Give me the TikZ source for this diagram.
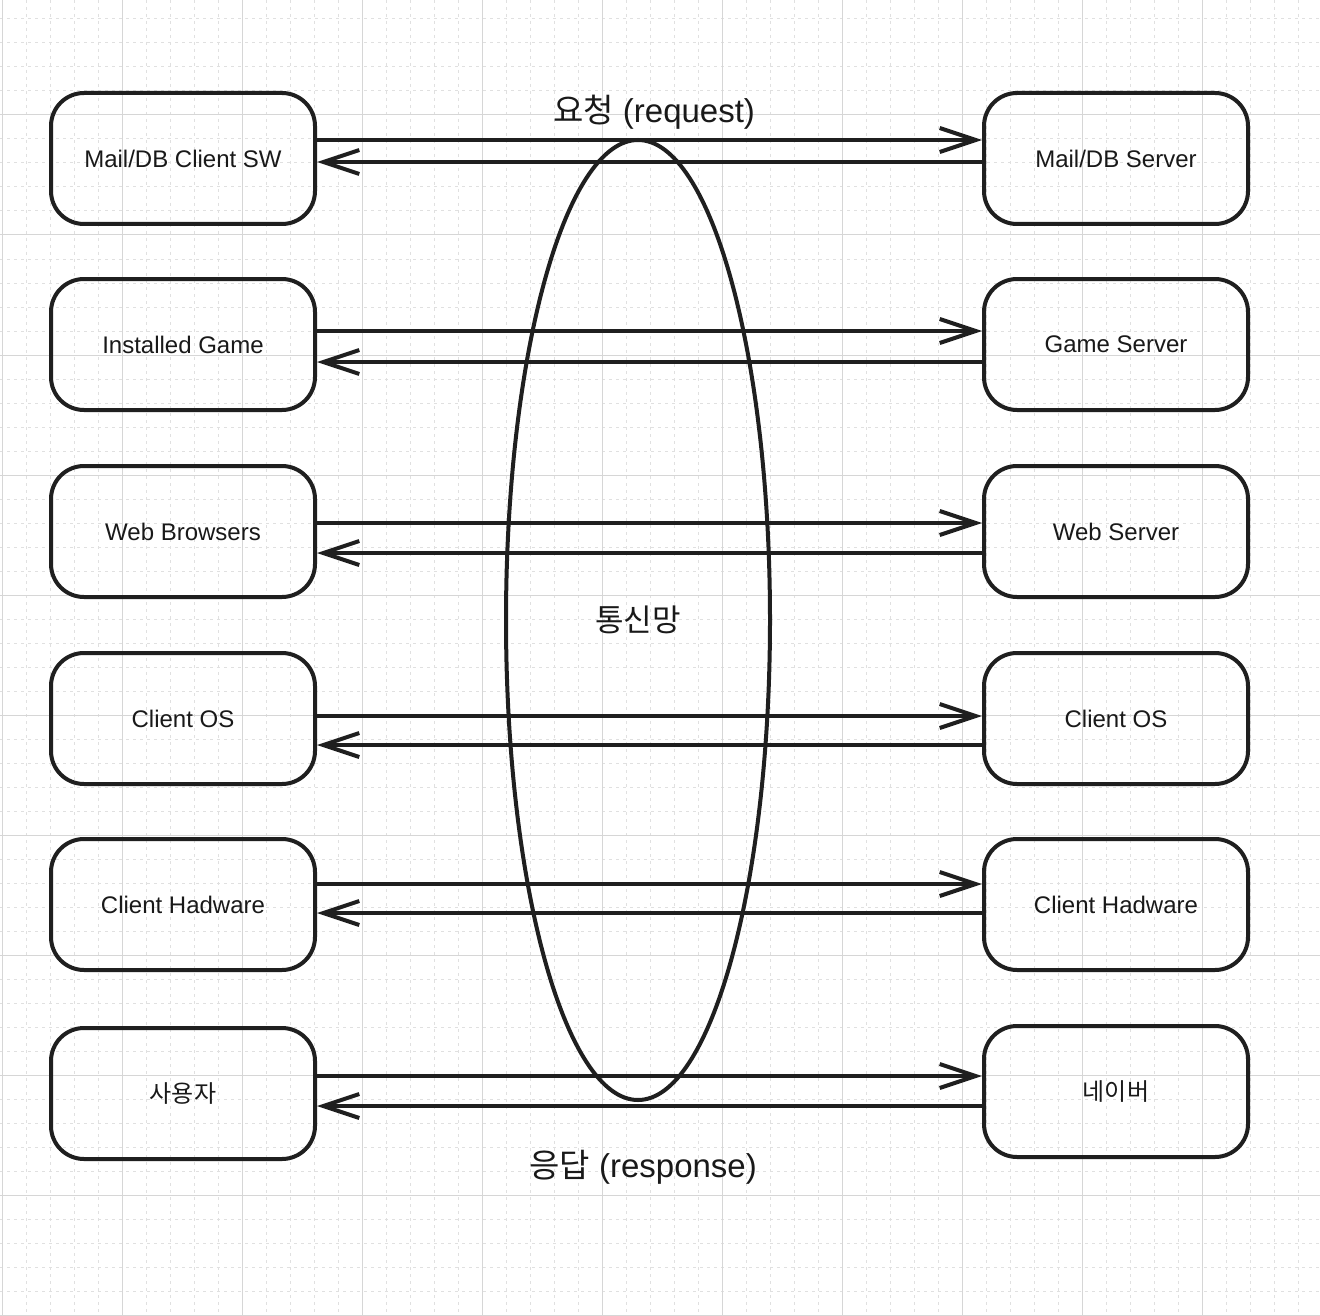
\documentclass[tikz,border=0pt]{standalone}
\usepackage{fontspec}
\setmainfont{Liberation Sans}
\newfontfamily\kr{Noto Sans CJK KR}
\usetikzlibrary{arrows.meta,shapes.geometric}

\tikzset{
  layer/.style = {draw=black!88, line width=4pt, rounded corners=33pt,
    minimum width=264pt, minimum height=131pt, inner sep=0pt,
    text=black!90, font=\fontsize{24}{28}\selectfont},
  msg/.style = {draw=black!88, line width=4pt,
    -{Straight Barb[length=36pt, width=24pt, line width=4pt]}},
  caption/.style = {text=black!90, font=\fontsize{33}{39}\selectfont},
}

\begin{document}
\begin{tikzpicture}[x=1pt, y=-1pt]
    \useasboundingbox (0, 0) rectangle (1320, 1316);
    \fill[white] (0, 0) rectangle (1320, 1316);
    % grid of the canvas
    \begin{scope}[line width=1pt]
      \foreach \gx in {26, 50, ..., 1320}
        \draw[black!12, dash pattern=on 3pt off 4pt] (\gx, 0) -- (\gx, 1316);
      \foreach \gy in {19, 43, ..., 1316}
        \draw[black!12, dash pattern=on 3pt off 4pt] (0, \gy) -- (1320, \gy);
      \foreach \gx in {2, 122, ..., 1320}
        \draw[black!16] (\gx, 0) -- (\gx, 1316);
      \foreach \gy in {115, 235, ..., 1316}
        \draw[black!16] (0, \gy) -- (1320, \gy);
    \end{scope}
    \node[draw=black!88, line width=4pt, ellipse, minimum width=264pt,
      minimum height=960pt, inner sep=0pt, text=black!90,
      font=\fontsize{31}{37}\selectfont\kr] (net) at (638, 620) {통신망};
    \node[caption] (request)  at (654, 112)  {{\kr 요청} (request)};
    \node[caption] (response) at (643, 1167) {{\kr 응답} (response)};
    \begin{scope}[every node/.style = {layer}]
      \node (lMail)  at (183, 158.5)  {Mail/DB Client SW};
      \node (lGame)  at (183, 344.5)  {Installed Game};
      \node (lWeb)   at (183, 531.5)  {Web Browsers};
      \node (lOS)    at (183, 718.5)  {Client OS};
      \node (lHw)    at (183, 904.5)  {Client Hadware};
      \node (lUser)  at (183, 1093.5) {\kr 사용자};
      \node (rMail)  at (1116, 158.5)  {Mail/DB Server};
      \node (rGame)  at (1116, 344.5)  {Game Server};
      \node (rWeb)   at (1116, 531.5)  {Web Server};
      \node (rOS)    at (1116, 718.5)  {Client OS};
      \node (rHw)    at (1116, 904.5)  {Client Hadware};
      \node (rNaver) at (1116, 1091.5) {\kr 네이버};
    \end{scope}
    \begin{scope}[msg]
      \draw ([yshift=18.5pt]lMail.east) to ([yshift=18.5pt]rMail.west);
      \draw ([yshift=-3.5pt]rMail.west) to ([yshift=-3.5pt]lMail.east);
      \draw ([yshift=13.5pt]lGame.east) to ([yshift=13.5pt]rGame.west);
      \draw ([yshift=-17.5pt]rGame.west) to ([yshift=-17.5pt]lGame.east);
      \draw ([yshift=8.5pt]lWeb.east) to ([yshift=8.5pt]rWeb.west);
      \draw ([yshift=-21.5pt]rWeb.west) to ([yshift=-21.5pt]lWeb.east);
      \draw ([yshift=2.5pt]lOS.east) to ([yshift=2.5pt]rOS.west);
      \draw ([yshift=-26.5pt]rOS.west) to ([yshift=-26.5pt]lOS.east);
      \draw ([yshift=20.5pt]lHw.east) to ([yshift=20.5pt]rHw.west);
      \draw ([yshift=-8.5pt]rHw.west) to ([yshift=-8.5pt]lHw.east);
      \draw ([yshift=17.5pt]lUser.east) to ([yshift=15.5pt]rNaver.west);
      \draw ([yshift=-14.5pt]rNaver.west) to ([yshift=-12.5pt]lUser.east);
    \end{scope}
  \end{tikzpicture}
\end{document}
